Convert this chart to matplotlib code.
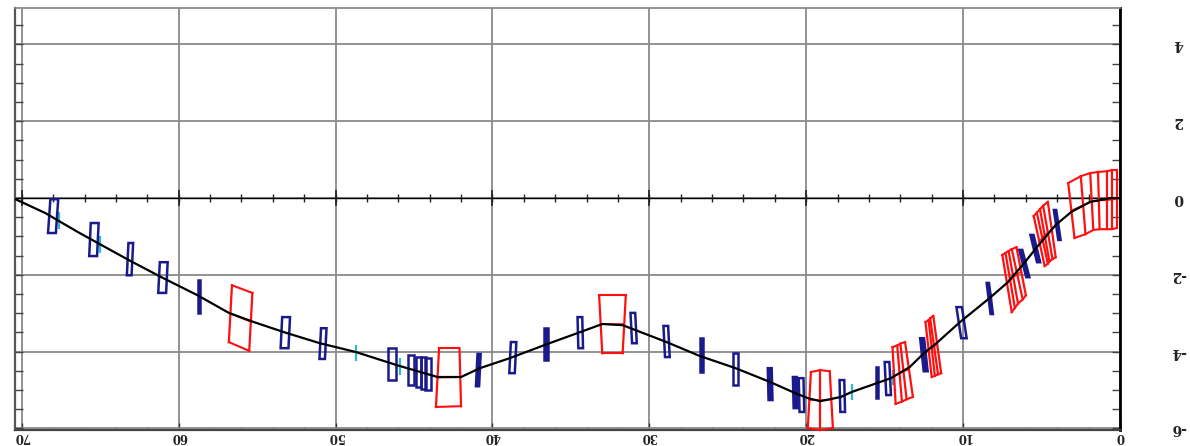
import matplotlib
matplotlib.use("Agg")
import matplotlib.pyplot as plt
import numpy as np

# beam line
beam_s = [70.4,68.5,66.4,63.2,61.1,58.8,56.8,55.2,53.3,51.0,48.7,46.1,43.5,42.0,40.8,38.9,36.5,34.4,33.0,31.7,
          28.9,26.8,24.5,22.3,20.7,19.9,19.1,17.8,17.1,15.5,14.6,13.4,12.5,11.7,10.2,8.3,7.2,6.2,5.3,4.1,3.1,1.9,0.6,0.0]
beam_y = [-0.03,-0.39,-0.89,-1.61,-2.06,-2.53,-2.99,-3.23,-3.49,-3.78,-4.01,-4.35,-4.66,-4.66,-4.43,-4.17,-3.80,-3.49,-3.28,-3.31,
          -3.75,-4.11,-4.43,-4.79,-5.08,-5.21,-5.29,-5.18,-5.05,-4.82,-4.69,-4.40,-4.04,-3.78,-3.23,-2.60,-2.21,-1.74,-1.28,-0.70,-0.36,-0.10,0.0,0.0]

# blue elements
blue_s = [68.0,65.4,63.1,61.0,58.7,53.2,50.8,46.4,45.2,44.7,44.4,44.1,40.9,38.7,36.6,34.4,31.0,28.9,26.7,24.5,22.3,20.7,20.3,17.7,15.5,14.8,12.5,10.1,8.3,6.1,5.4,4.0]
blue_top = [-0.03,-0.65,-1.17,-1.67,-2.14,-3.10,-3.39,-3.91,-4.09,-4.14,-4.14,-4.17,-4.06,-3.75,-3.39,-3.10,-2.99,-3.33,-3.65,-4.04,-4.43,-4.66,-4.69,-4.74,-4.40,-4.27,-3.65,-2.84,-2.21,-1.35,-0.96,-0.31]
blue_bot = [-0.91,-1.51,-2.01,-2.47,-2.99,-3.91,-4.19,-4.74,-4.87,-4.92,-4.97,-5.00,-4.90,-4.56,-4.22,-3.91,-3.78,-4.14,-4.53,-4.87,-5.26,-5.47,-5.57,-5.57,-5.21,-5.13,-4.51,-3.65,-3.02,-2.06,-1.67,-1.09]
blue_w = [0.5,0.5,0.3,0.5,0.15,0.5,0.35,0.5,0.35,0.35,0.35,0.35,0.2,0.35,0.25,0.3,0.3,0.3,0.2,0.35,0.25,0.25,0.3,0.3,0.15,0.3,0.25,0.35,0.15,0.2,0.2,0.15]
blue_tilt = [-0.15,-0.1,-0.1,-0.1,0,-0.1,-0.1,0,0,0,0,0,-0.1,-0.1,0,0.05,0.1,0.1,0,0,0.05,0.05,0.05,0.05,0,0.1,0.23,0.3,0.25,0.45,0.42,0.28]

# cyan markers
cyan_s = [67.6,65.0,48.7,45.9,17.1,14.5,8.2]
cyan_top = [-0.36,-0.99,-3.83,-4.17,-4.84,-4.48,-2.47]
cyan_bot = [-0.81,-1.43,-4.24,-4.61,-5.26,-4.87,-2.79]

# red magnets: top and bottom edge points
red_top_s = [[56.6,55.3],[43.4,42.1],[33.2,31.5],[19.7,19.1,18.5],[14.5,14.2,14.0,13.7],[12.4,12.2,12.1,11.9],
             [7.5,7.3,7.1,6.9,6.6],[5.5,5.3,5.1,4.9,4.6],[3.3,2.5,1.9,1.4,0.8,0.5,0.2]]
red_top_y = [[-2.27,-2.47],[-3.91,-3.91],[-2.53,-2.53],[-4.53,-4.48,-4.51],[-3.88,-3.84,-3.79,-3.75],[-3.23,-3.18,-3.13,-3.07],
             [-1.48,-1.43,-1.38,-1.33,-1.28],[-0.47,-0.38,-0.29,-0.20,-0.10],[0.39,0.57,0.65,0.68,0.70,0.73,0.73]]
red_bot_s = [[56.8,55.5],[43.6,42.0],[33.0,31.7],[19.9,19.1,18.3],[14.3,13.9,13.6,13.2],[12.0,11.8,11.6,11.4],
             [6.9,6.7,6.5,6.2,6.0],[4.8,4.6,4.5,4.3,4.1],[2.9,2.2,1.7,1.3,0.8,0.5,0.2]]
red_bot_y = [[-3.75,-3.98],[-5.44,-5.42],[-4.04,-4.04],[-5.99,-6.04,-5.99],[-5.36,-5.30,-5.24,-5.18],[-4.66,-4.63,-4.59,-4.56],
             [-2.97,-2.86,-2.75,-2.64,-2.53],[-1.77,-1.71,-1.65,-1.59,-1.54],[-1.04,-0.94,-0.83,-0.81,-0.81,-0.81,-0.78]]

x_ticks = [70,60,50,40,30,20,10,0]
x_labels = ['70','60','50','40','30','20','10','0']
y_ticks = [4,2,0,-2,-4,-6]
y_labels = ['4','2','0','-2','-4','-6']

W, H = 1190, 446
fig = plt.figure(figsize=(W/100, H/100), dpi=100)
ax = fig.add_axes([15/W, 1-430/H, (1120-15)/W, (430-8)/H])
ax.set_xlim(70.43, 0)
ax.set_ylim(-6.04, 4.95)
GREY = '#8a8a8a'
ax.set_axisbelow(True)
ax.set_xticks(x_ticks, x_labels, rotation=180, family='DejaVu Serif', fontsize=8.5, fontweight='bold')
ax.set_yticks(y_ticks, y_labels, rotation=180, family='DejaVu Serif', fontsize=10, fontweight='bold')
ax.set_xticks(np.arange(0, 71, 2), minor=True)
ax.set_yticks(np.arange(-6, 5, 0.5), minor=True)
ax.yaxis.tick_right()
ax.tick_params(axis='x', which='major', direction='in', length=5, width=1, pad=0, color='#333333', top=False, labelcolor='#222222')
ax.tick_params(axis='x', which='minor', direction='in', length=2.5, width=0.9, color='#333333', top=False)
ax.tick_params(axis='y', which='both', direction='in', length=6, width=1, left=True, right=True, color='#444444', pad=42, labelcolor='#222222')
for lab in ax.get_yticklabels():
    lab.set_ha('center')
    lab.set_va('center')
ax.grid(True, which='major', color=GREY, lw=1.3)
for name, c, lw in [('left', '#555555', 1.6), ('bottom', '#444444', 1.6), ('right', 'black', 2.0), ('top', GREY, 1.3)]:
    ax.spines[name].set_color(c)
    ax.spines[name].set_linewidth(lw)

# zero line with crossing ticks
ax.axhline(0, color='black', lw=1.0, zorder=1.5)
ax.plot(np.arange(0, 71, 2), np.zeros(36), ls='none', marker='|', ms=6, mew=1, color='#222222', zorder=1.6)
ax.plot(x_ticks, np.zeros(8), ls='none', marker='|', ms=12, mew=1.2, color='#222222', zorder=1.6)

for s, t, b in zip(cyan_s, cyan_top, cyan_bot):
    ax.plot([s, s], [t, b], color='#2fb8d4', lw=1.6, zorder=2, solid_capstyle='butt')

BLUE = '#1a1a8c'
for s, t, b, w, tl in zip(blue_s, blue_top, blue_bot, blue_w, blue_tilt):
    xs = [s+tl/2+w/2, s+tl/2-w/2, s-tl/2-w/2, s-tl/2+w/2]
    ax.fill(xs, [t, t, b, b], fc='none' if w >= 0.3 else BLUE, ec=BLUE, lw=1.8, zorder=3, clip_on=False)

RED = '#ff1010'
for ts, ty, bs, by in zip(red_top_s, red_top_y, red_bot_s, red_bot_y):
    ax.plot(ts, ty, color=RED, lw=1.5, zorder=4, clip_on=False)
    ax.plot(bs, by, color=RED, lw=1.5, zorder=4, clip_on=False)
    for a, c, d, e in zip(ts, ty, bs, by):
        ax.plot([a, d], [c, e], color=RED, lw=1.6, zorder=4, clip_on=False)
    mid_s = (np.array(ts)+np.array(bs))/2
    mid_y = (np.array(ty)+np.array(by))/2
    ax.plot(mid_s, mid_y, color=RED, lw=1.1, zorder=4, clip_on=False)

ax.plot(beam_s, beam_y, color='black', lw=1.6, zorder=5)
fig.savefig('out.png', dpi=100)
